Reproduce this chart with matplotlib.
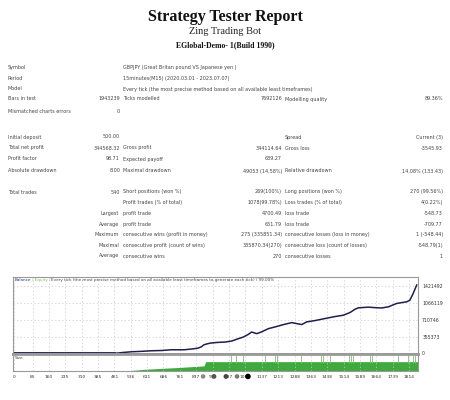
import matplotlib
matplotlib.use("Agg")
import matplotlib.pyplot as plt

# header
title = "Strategy Tester Report"
subtitle = "Zing Trading Bot"
server = "EGlobal-Demo- 1(Build 1990)"

# settings block
info_labels = ["Symbol", "Period", "Model"]
info_texts = ["GBPJPY (Great Britan pound VS Japanese yen )",
              "15minutes(M15) (2020.03.01 - 2023.07.07)",
              "Every tick (the most precise method based on all available least timeframes)"]

# results table: label1, value1, label2, value2, label3, value3
rows_top = [
    ["Bars in test", "1943239", "Ticks modelled", "7692126", "Modelling quality", "89.36%"],
    ["Mismatched charts errors", "0", "", "", "", ""],
]
rows_mid = [
    ["Initial deposit", "500.00", "", "", "Spread", "Current (3)"],
    ["Total net profit", "344568.32", "Gross profit", "344114.64", "Gross loss", "-3545.93"],
    ["Profit factor", "98.71", "Expected payoff", "639.27", "", ""],
    ["Absolute drawdown", "8.00", "Maximal drawdown", "49053 (14.58%)", "Relative drawdown", "14.08% (133.43)"],
    ["Total trades", "540", "Short positions (won %)", "269(100%)", "Long positions (won %)", "270 (99.56%)"],
]
rows_sub = [
    ["", "Profit trades (% of total)", "1078(99.78%)", "Loss trades (% of total)", "4(0.22%)"],
    ["Largest", "profit trade", "4700.49", "loss trade", "-548.73"],
    ["Average", "profit trade", "651.79", "loss trade", "-709.77"],
    ["Maximum", "consecutive wins (profit in money)", "275 (335851.34)", "consecutive losses (loss in money)", "1 (-548.44)"],
    ["Maximal", "consecutive profit (count of wins)", "335870.34(270)", "consecutive loss (count of losses)", "-548.79(1)"],
    ["Average", "consecutive wins", "270", "consecutive losses", "1"],
]

# balance curve
trades = [0, 460, 500, 540, 590, 630, 680, 720, 780, 820, 845, 860, 872, 885, 900, 930,
          969, 999, 1030, 1053, 1075, 1091, 1114, 1137, 1168, 1198, 1237, 1275, 1298,
          1321, 1344, 1382, 1428, 1474, 1512, 1543, 1565, 1581, 1627, 1660, 1688, 1719,
          1757, 1803, 1818, 1833, 1849]
balance = [0, 0, 20000, 35000, 45000, 56000, 62000, 77000, 77000, 95000, 112000, 140000,
           182000, 200000, 217000, 231000, 240000, 261000, 311000, 346000, 400000, 452000,
           417000, 455000, 523000, 558000, 608000, 650000, 629000, 609000, 665000, 693000,
           736000, 778000, 806000, 863000, 930000, 962000, 976000, 965000, 959000, 983000,
           1054000, 1089000, 1124000, 1266000, 1443000]
y_ticks = [0, 355373, 710746, 1066119, 1421492]
x_ticks = [0, 85, 160, 235, 310, 385, 461, 536, 611, 686, 761, 837, 912, 987, 1062,
           1137, 1213, 1288, 1363, 1438, 1514, 1589, 1664, 1739, 1814]

# lot size panel
size_trades = [509, 600, 700, 762, 820, 872, 880, 1855]
size_values = [0.0, 0.1, 0.17, 0.21, 0.26, 0.3, 0.55, 0.55]
spike_trades = [996, 1018, 1050, 1152, 1198, 1206, 1316, 1408, 1417, 1451, 1540, 1546,
                1555, 1634, 1644, 1765, 1810, 1834, 1841]
blot_trades = [868, 918, 973, 1024, 1074]
blot_colors = ["#888888", "#555555", "#444444", "#777777", "#000000"]

W, H = 450, 400
fig = plt.figure(figsize=(W / 100, H / 100), dpi=100)


def put(x, y, s, **kw):
    fig.text(x / W, 1 - y / H, s, va="center", **kw)


serif = ["Liberation Serif", "DejaVu Serif"]
put(225, 17, title, ha="center", fontsize=11.5, fontweight="bold", family=serif, color="#111")
put(225, 31, subtitle, ha="center", fontsize=7.5, family=serif, color="#222")
put(225, 45, server, ha="center", fontsize=5.6, fontweight="bold", family=serif, color="#111")

fs = 3.5
tc = "#444444"
for i, (lab, txt) in enumerate(zip(info_labels, info_texts)):
    y = 68 + i * 10.5
    put(8, y, lab, fontsize=fs, color=tc)
    put(123, y, txt, fontsize=fs, color=tc)


def table_row(y, r):
    put(8, y, r[0], fontsize=fs, color=tc)
    put(120, y, r[1], ha="right", fontsize=fs, color=tc)
    put(123, y, r[2], fontsize=fs, color=tc)
    put(282, y, r[3], ha="right", fontsize=fs, color=tc)
    put(285, y, r[4], fontsize=fs, color=tc)
    put(443, y, r[5], ha="right", fontsize=fs, color=tc)


table_row(99, rows_top[0])
table_row(111, rows_top[1])
for y, r in zip([137, 148, 159, 171, 192], rows_mid):
    table_row(y, r)
for i, r in enumerate(rows_sub):
    y = 203 + i * 10.6
    put(119, y, r[0], ha="right", fontsize=fs, color=tc)
    put(123, y, r[1], fontsize=fs, color=tc)
    put(282, y, r[2], ha="right", fontsize=fs, color=tc)
    put(285, y, r[3], fontsize=fs, color=tc)
    put(443, y, r[4], ha="right", fontsize=fs, color=tc)

# chart panels
left, right = 13, 418
ax = fig.add_axes([left / W, 1 - 354 / H, (right - left) / W, (354 - 277) / H])
axs = fig.add_axes([left / W, 1 - 371 / H, (right - left) / W, (371 - 354) / H])

xlim = (-5, 1855)
ax.set_xlim(xlim)
ax.set_ylim(-12000, 1612000)
ax.plot(trades, balance, color="#1e1f4e", lw=1.1, solid_joinstyle="round")
ax.plot([xlim[0], 460], [0, 0], color="#1e1f4e", lw=2)
ax.set_yticks(y_ticks)
ax.set_yticklabels([str(v) for v in y_ticks])
ax.yaxis.tick_right()
ax.set_xticks(x_ticks)
ax.tick_params(axis="y", length=0, pad=3, labelsize=3.3, labelcolor="#333")
ax.tick_params(axis="x", length=0, labelbottom=False)
ax.grid(True, color="#c8c8c8", lw=0.5, ls=(0, (2, 3)))
for sp in ax.spines.values():
    sp.set_color("#999999")
    sp.set_linewidth(0.8)
ax.spines["bottom"].set_linewidth(2)
ax.text(0.004, 0.955, "Balance", transform=ax.transAxes, fontsize=3.0, color="#2a2f7a", va="center")
ax.text(0.048, 0.955, "/ Equity /", transform=ax.transAxes, fontsize=3.0, color="#7fbf5f", va="center")
ax.text(0.095, 0.955,
        "Every tick (the most precise method based on all available least timeframes to generate each tick) / 99.00%",
        transform=ax.transAxes, fontsize=3.0, color="#444", va="center")

axs.set_xlim(xlim)
axs.set_ylim(0, 1)
axs.fill_between(size_trades, size_values, 0, color="#3eaa3e", lw=0)
axs.vlines(spike_trades, 0.5, 0.95, color="#86b878", lw=0.6)
axs.set_xticks(x_ticks)
axs.set_xticklabels([str(v) for v in x_ticks])
axs.set_yticks([])
axs.tick_params(axis="x", length=0, pad=3, labelsize=3.2, labelcolor="#333")
axs.grid(True, axis="x", color="#c8c8c8", lw=0.5, ls=(0, (2, 3)))
for sp in axs.spines.values():
    sp.set_color("#999999")
    sp.set_linewidth(0.8)
axs.spines["top"].set_linewidth(2)
axs.text(0.004, 0.75, "Size", transform=axs.transAxes, fontsize=3.0, color="#444", va="center")
axs.scatter(blot_trades, [-0.32] * len(blot_trades), s=[5, 6, 6, 5, 9], c=blot_colors,
            transform=axs.get_xaxis_transform(), clip_on=False, zorder=5)

fig.savefig("out.png", dpi=100, facecolor="white")
